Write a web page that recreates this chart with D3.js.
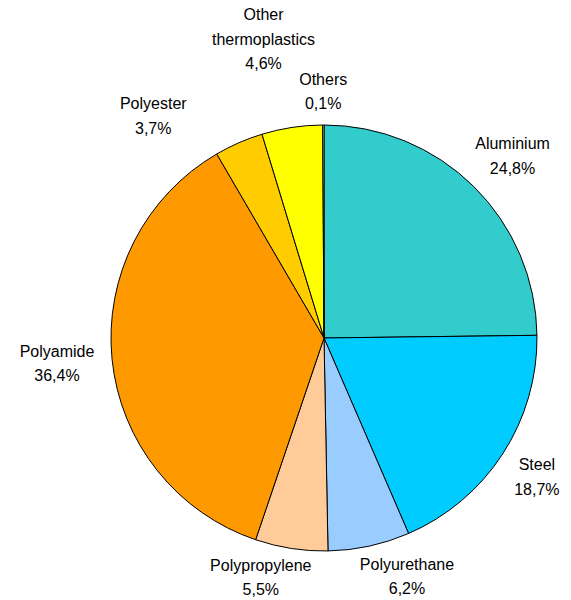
<!DOCTYPE html>
<html>
<head>
<meta charset="utf-8">
<script src="https://cdn.jsdelivr.net/npm/d3@7"></script>
<style>
  body { margin: 0; background: #fff; }
  svg { display: block; }
  text { font-family: "Liberation Sans", Arial, sans-serif; font-size: 16px; fill: #000; }
</style>
</head>
<body>
<svg id="chart" width="571" height="600"></svg>
<script>
// data, clockwise from 12 o'clock
const categories = ["Aluminium", "Steel", "Polyurethane", "Polypropylene",
                    "Polyamide", "Polyester", "Other thermoplastics", "Others"];
const shares = [24.8, 18.7, 6.2, 5.5, 36.4, 3.7, 4.6, 0.1];
const shareLabels = ["24,8%", "18,7%", "6,2%", "5,5%", "36,4%", "3,7%", "4,6%", "0,1%"];
const colors = ["#33CCCC", "#00CCFF", "#99CCFF", "#FFCC99",
                "#FF9900", "#FFCC00", "#FFFF00", "#FFFF99"];

// layout
const cx = 324, cy = 338, radius = 213, gap = 18, lineH = 24.5;
// label boxes moved by the spreadsheet to fit the chart area
const labelNudge = {
  "Polyurethane": [24, -11],
  "Polypropylene": [-20, -13],
  "Polyester": [-65, 12],
  "Other thermoplastics": [-18, -34],
  "Others": [0, 9]
};

const rows = categories.map((c, i) => ({
  name: c, value: shares[i], label: shareLabels[i], color: colors[i]
}));

const svg = d3.select("#chart");
const g = svg.append("g").attr("transform", `translate(${cx},${cy})`);

const pie = d3.pie().sort(null).value(d => d.value);
const arc = d3.arc().innerRadius(0).outerRadius(radius);
const arcs = pie(rows);

g.selectAll("path.slice")
  .data(arcs)
  .enter()
  .append("path")
  .attr("class", "slice")
  .attr("d", arc)
  .attr("fill", d => d.data.color)
  .attr("stroke", "#000")
  .attr("stroke-width", 1)
  .attr("stroke-linejoin", "round");

const labels = g.selectAll("g.label")
  .data(arcs)
  .enter()
  .append("g")
  .attr("class", "label");

labels.each(function(d) {
  const lines = d.data.name === "Other thermoplastics"
    ? ["Other", "thermoplastics", d.data.label]
    : [d.data.name, d.data.label];
  const t = d3.select(this).append("text").attr("text-anchor", "middle");
  lines.forEach((ln, k) => {
    t.append("tspan").attr("x", 0).attr("y", k * lineH).text(ln);
  });
  // box size, so the box edge sits just outside the pie
  const w = d3.max(t.selectAll("tspan").nodes(), n => n.getComputedTextLength());
  const h = lines.length * lineH;
  const a = (d.startAngle + d.endAngle) / 2;
  const s = Math.sin(a), c = -Math.cos(a);
  const nudge = labelNudge[d.data.name] || [0, 0];
  const bx = (radius + gap) * s + (w / 2) * s + nudge[0];
  const by = (radius + gap) * c + (h / 2) * c + nudge[1];
  // first baseline relative to box centre
  const y0 = by - h / 2 + lineH * 0.5 + 5.5;
  d3.select(this).attr("transform", `translate(${bx},${y0})`);
});
</script>
</body>
</html>
